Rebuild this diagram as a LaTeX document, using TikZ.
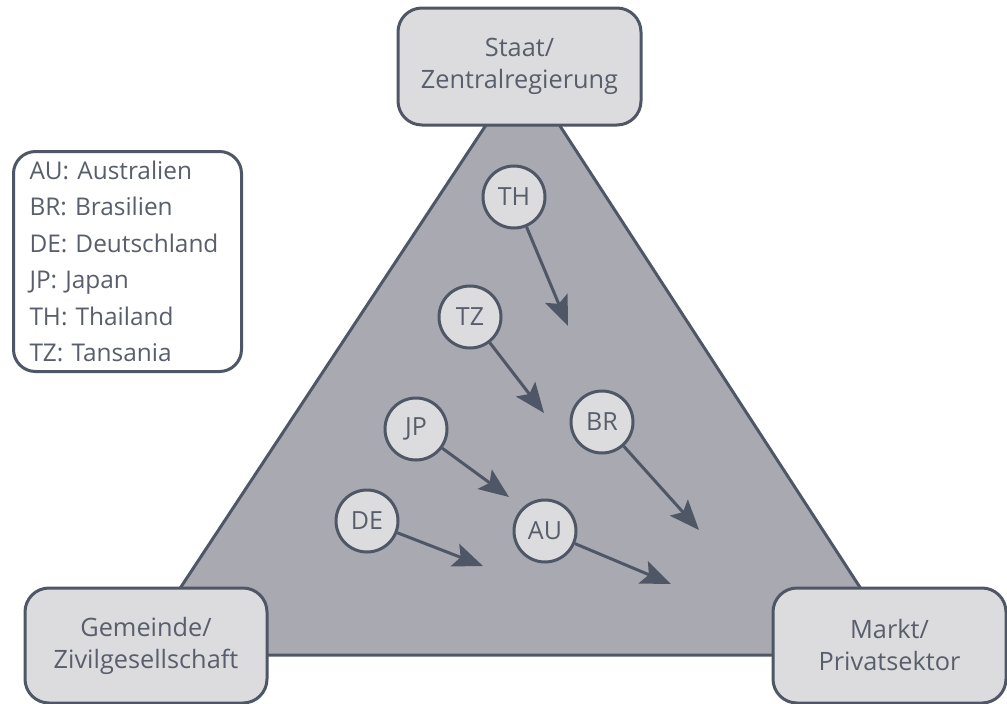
\documentclass[tikz,border=0pt]{standalone}
\usepackage{fontspec}
\setmainfont{Open Sans}
\usetikzlibrary{positioning, arrows.meta}
\definecolor{slate}{HTML}{4F5766}
\definecolor{boxgray}{HTML}{DCDCDF}
\definecolor{trigray}{HTML}{A9A9B1}
\definecolor{txtgray}{HTML}{585E6B}

\begin{document}
\begin{tikzpicture}[x=1pt, y=-1pt, line width=3pt,
  >={Stealth[length=30pt, width=24pt, inset=6pt]},
  corner/.style={draw=slate, fill=boxgray, rounded corners=24pt, minimum width=240pt,
    minimum height=115pt, align=center, text=txtgray, font=\fontsize{25.3}{32}\selectfont},
  country/.style={circle, draw=slate, fill=boxgray, minimum size=62pt, inner sep=0pt,
    text=txtgray, font=\fontsize{25}{28}\selectfont},
  legend/.style={draw=slate, fill=white, rounded corners=22pt, minimum width=228pt,
    minimum height=220pt, text width=196pt, align=left, text=txtgray,
    font=\fontsize{24.4}{36.5}\selectfont},
  move/.style={->, draw=slate}]
  \useasboundingbox (0,0) rectangle (1007,704);

  % the triangle
  \coordinate (apex)  at (523,69);
  \coordinate (left)  at (136,655);
  \coordinate (right) at (904,655);
  \draw[draw=slate, fill=trigray, line join=miter] (left) -- (apex) -- (right) -- cycle;

  % corners
  \node[corner, minimum width=243pt, minimum height=117pt] (staat) at (519.5,66.5) {Staat/\\Zentralregierung};
  \node[corner, minimum width=242pt] (gemeinde) at (146,645.5) {Gemeinde/\\Zivilgesellschaft};
  \node[corner, minimum width=233pt] (markt) at (889.5,645.5) {Markt/\\Privatsektor};

  % legend
  \node[legend, anchor=north west] (key) at (12,150) {AU: Australien\\BR: Brasilien\\DE: Deutschland\\JP: Japan\\TH: Thailand\\TZ: Tansania};

  % countries
  \node[country] (TH) at (514,197) {TH};
  \node[country] (TZ) at (470,317) {TZ};
  \node[country] (JP) at (416,429) {JP};
  \node[country] (BR) at (602,422) {BR};
  \node[country] (DE) at (367,521) {DE};
  \node[country] (AU) at (545,531) {AU};

  % where they move
  \coordinate (thTo) at (568,326);
  \coordinate (tzTo) at (544,413);
  \coordinate (jpTo) at (509,497);
  \coordinate (brTo) at (699,530);
  \coordinate (deTo) at (483,566);
  \coordinate (auTo) at (671,584);

  \draw[move] (TH) -- (thTo);
  \draw[move] (TZ) -- (tzTo);
  \draw[move] (JP) -- (jpTo);
  \draw[move] (BR) -- (brTo);
  \draw[move] (DE) -- (deTo);
  \draw[move] (AU) -- (auTo);
\end{tikzpicture}
\end{document}
